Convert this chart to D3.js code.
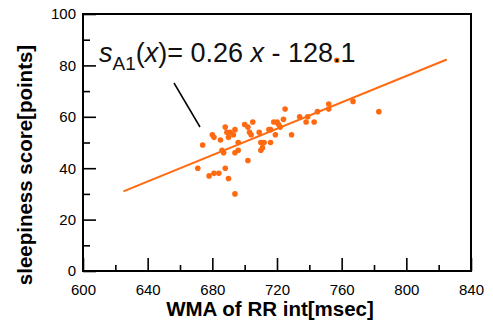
<!DOCTYPE html>
<html lang="en">
<head>
    <meta charset="UTF-8">
    <title>Sleepiness score vs WMA of RR int</title>
    <script src="https://d3js.org/d3.v7.min.js"></script>
    <style>
        body {
            margin: 0;
            padding: 0;
            background: #fff;
        }
        svg {
            display: block;
            font-family: "Liberation Sans", Arial, sans-serif;
        }
        .tick text {
            font-size: 15px;
            fill: #000;
        }
        .tick line {
            stroke: #000;
            stroke-width: 1.6px;
        }
        .axis-title {
            font-size: 20.5px;
            font-weight: bold;
        }
    </style>
</head>
<body>
    <svg width="493" height="324"></svg>

    <script>
        // scatter points
        const wmaX = [671, 674, 678, 680, 681, 681, 684, 685, 686, 687, 688, 688, 689, 690,
                      690, 691, 693, 694, 694, 694, 696, 696, 700, 702, 702, 703, 704, 705,
                      709, 710, 710, 711, 712, 715, 716, 716, 718, 719, 720, 721, 722, 724,
                      725, 729, 734, 738, 739, 743, 745, 752, 752, 757, 767, 783];
        const scoreY = [40, 49, 37, 53, 52, 38, 38, 51, 47, 46, 40, 56, 54, 36,
                        52, 54, 53, 30, 46, 55, 50, 47, 57, 43, 56, 54, 53, 58,
                        54, 50, 47, 48, 50, 55, 50, 55, 58, 53, 58, 57, 56, 59,
                        63, 53, 60, 58, 60, 58, 62, 65, 63, 82, 66, 62];

        // regression line end points
        const fitX = [625, 825];
        const fitY = [31, 82.3];

        const xTicks = [600, 640, 680, 720, 760, 800, 840];
        const xMinor = [620, 660, 700, 740, 780, 820];
        const yTicks = [0, 20, 40, 60, 80, 100];
        const yMinor = [10, 30, 50, 70, 90];

        const orange = "#ff6a10";

        const svg = d3.select("svg");
        const width = +svg.attr("width");
        const height = +svg.attr("height");
        const margin = {top: 14, right: 22, bottom: 53, left: 83};

        const x = d3.scaleLinear().domain([600, 840]).range([margin.left, width - margin.right]);
        const y = d3.scaleLinear().domain([0, 100]).range([height - margin.bottom, margin.top]);

        // ticks (inside)
        const gx = svg.append("g")
            .attr("transform", `translate(0,${height - margin.bottom})`)
            .call(d3.axisBottom(x).tickValues(xTicks).tickSize(-13).tickPadding(13));
        gx.select(".domain").remove();

        const gxMinor = svg.append("g")
            .attr("transform", `translate(0,${height - margin.bottom})`)
            .call(d3.axisBottom(x).tickValues(xMinor).tickSize(-6).tickFormat(""));
        gxMinor.select(".domain").remove();

        const gy = svg.append("g")
            .attr("transform", `translate(${margin.left},0)`)
            .call(d3.axisLeft(y).tickValues(yTicks).tickSize(-13).tickPadding(7));
        gy.select(".domain").remove();

        const gyMinor = svg.append("g")
            .attr("transform", `translate(${margin.left},0)`)
            .call(d3.axisLeft(y).tickValues(yMinor).tickSize(-7).tickFormat(""));
        gyMinor.select(".domain").remove();

        svg.selectAll(".tick text").attr("font-family", null).attr("font-size", null);

        // frame
        svg.append("rect")
            .attr("x", margin.left)
            .attr("y", margin.top)
            .attr("width", x(840) - x(600))
            .attr("height", y(0) - y(100))
            .attr("fill", "none")
            .attr("stroke", "#000")
            .attr("stroke-width", 2);

        // regression line
        svg.append("line")
            .attr("x1", x(fitX[0])).attr("y1", y(fitY[0]))
            .attr("x2", x(fitX[1])).attr("y2", y(fitY[1]))
            .attr("stroke", orange)
            .attr("stroke-width", 2);

        // points
        svg.append("g")
            .selectAll("circle")
            .data(wmaX.map((d, i) => [d, scoreY[i]]))
            .enter().append("circle")
            .attr("cx", d => x(d[0]))
            .attr("cy", d => y(d[1]))
            .attr("r", 2.8)
            .attr("fill", orange);

        // equation label + pointer
        const eq = svg.append("text")
            .attr("x", 99)
            .attr("y", 62)
            .attr("font-size", 27)
            .attr("fill", "#111");
        eq.append("tspan").attr("font-style", "italic").text("s");
        eq.append("tspan").attr("font-size", 19).attr("dy", 8).text("A1");
        eq.append("tspan").attr("dy", -8).text("(");
        eq.append("tspan").attr("font-style", "italic").text("x");
        eq.append("tspan").text(")= 0.26 ");
        eq.append("tspan").attr("font-style", "italic").text("x");
        eq.append("tspan").text(" - 128.1");

        svg.append("line")
            .attr("x1", 174).attr("y1", 83)
            .attr("x2", 200).attr("y2", 127)
            .attr("stroke", "#000")
            .attr("stroke-width", 1.5);

        // axis titles
        svg.append("text")
            .attr("class", "axis-title")
            .attr("x", 270)
            .attr("y", 316)
            .attr("text-anchor", "middle")
            .text("WMA of RR int[msec]");

        svg.append("text")
            .attr("class", "axis-title")
            .attr("transform", "translate(32,165) rotate(-90)")
            .attr("text-anchor", "middle")
            .text("sleepiness score[points]");
    </script>
</body>
</html>
